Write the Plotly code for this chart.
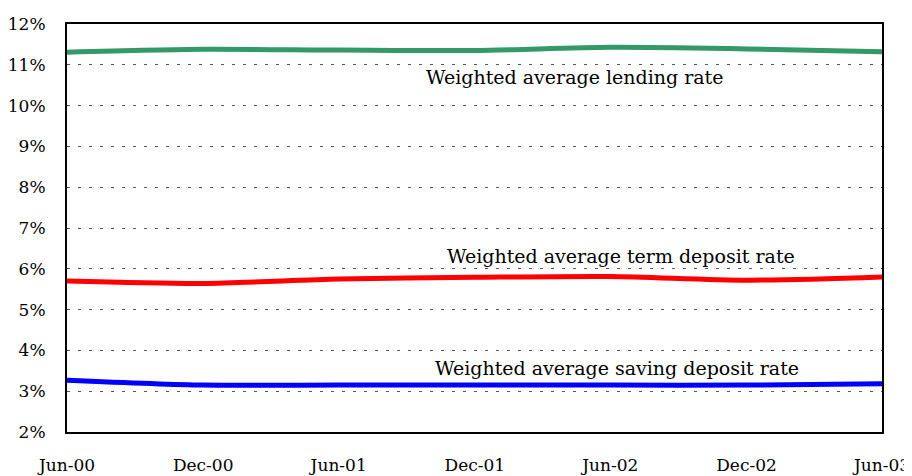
import plotly.graph_objects as go

# semi-annual observations, Jun-00 .. Jun-03
periods = ["2000-06-01", "2000-12-01", "2001-06-01", "2001-12-01",
           "2002-06-01", "2002-12-01", "2003-06-01"]
period_labels = ["Jun-00", "Dec-00", "Jun-01", "Dec-01", "Jun-02", "Dec-02", "Jun-03"]

lending_rate = [11.31, 11.38, 11.36, 11.35, 11.43, 11.39, 11.32]
term_deposit_rate = [5.70, 5.64, 5.75, 5.79, 5.81, 5.72, 5.80]
saving_deposit_rate = [3.27, 3.15, 3.15, 3.15, 3.15, 3.15, 3.18]

series = [
    ("Weighted average lending rate", lending_rate, "#339966"),
    ("Weighted average term deposit rate", term_deposit_rate, "#ff0000"),
    ("Weighted average saving deposit rate", saving_deposit_rate, "#0000ff"),
]

# label anchor: (x as fraction of plot width, y value)
label_pos = [(0.623, 10.70), (0.680, 6.31), (0.675, 3.57)]

serif = "DejaVu Serif"

fig = go.Figure()
for name, vals, color in series:
    fig.add_trace(go.Scatter(x=periods, y=vals, mode="lines", name=name,
                             line=dict(color=color, width=5, shape="spline", smoothing=0.8)))

for (name, _, _), (lx, ly) in zip(series, label_pos):
    fig.add_annotation(x=lx, xref="paper", y=ly, text=name, showarrow=False,
                       xanchor="center", yanchor="middle",
                       font=dict(family=serif, size=19, color="black"))

fig.update_xaxes(type="date", range=["2000-06-01", "2003-06-01"],
                 tickvals=periods, ticktext=period_labels, automargin=False,
                 showgrid=False, showline=True, linecolor="black", linewidth=2,
                 mirror=True, ticks="", ticklabelstandoff=17,
                 tickfont=dict(family=serif, size=17, color="black"))
fig.update_yaxes(range=[2, 12], dtick=1, ticksuffix="%", automargin=False,
                 showgrid=True, gridcolor="#555555", gridwidth=1, griddash="3px,8px",
                 showline=True, linecolor="black", linewidth=2, mirror=True,
                 ticks="", ticklabelstandoff=16, zeroline=False,
                 tickfont=dict(family=serif, size=17, color="black"))

# page body adds ~8px offset, so the figure is shrunk by that much to avoid overflow
fig.update_layout(width=904, height=468, showlegend=False,
                  plot_bgcolor="white", paper_bgcolor="white",
                  margin=dict(l=59, r=30, t=16, b=44))

fig.write_html("out.html")
